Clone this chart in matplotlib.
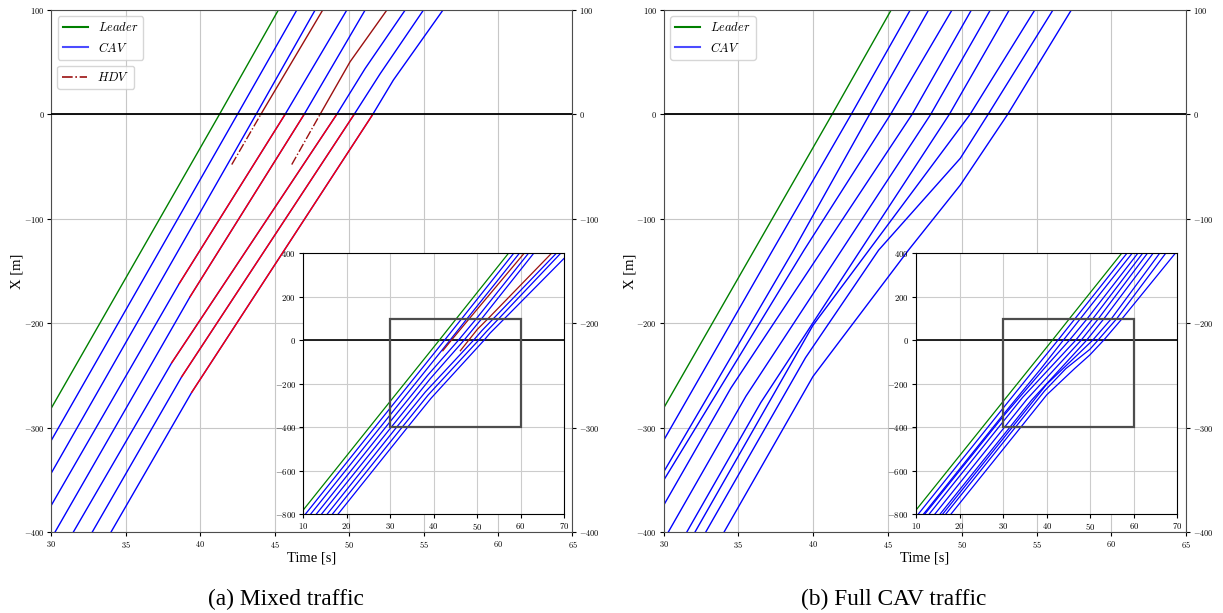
import matplotlib
matplotlib.use('Agg')
import matplotlib.pyplot as plt
from matplotlib.lines import Line2D
from matplotlib.patches import Rectangle

plt.rcParams['font.family'] = 'serif'
plt.rcParams['font.serif'] = ['cmr10']
plt.rcParams['mathtext.fontset'] = 'cm'
plt.rcParams['axes.formatter.use_mathtext'] = True

# --- datos (tiempo [s], posicion [m]) ---
leader_t = [10.0, 30.0, 41.28, 45.24, 57.2]
leader_x = [-781, -281, 0, 100, 400]

# (a) trafico mixto: 7 CAV
mixed_cav_t = [
    [10.5, 30.0, 42.49, 46.48, 58.4],
    [11.7, 30.0, 43.74, 47.71, 59.7],
    [13.0, 30.0, 38.59, 45.69, 49.84, 61.8],
    [14.2, 30.24, 39.31, 46.97, 51.07, 63.0],
    [15.5, 31.47, 38.08, 49.16, 51.07, 53.76, 68.2],
    [16.7, 32.74, 38.75, 50.33, 52.08, 54.99, 69.2],
    [18.0, 34.0, 39.42, 51.58, 52.97, 56.3, 70.0],
]
mixed_cav_x = [
    [-800, -311.9, 0, 100, 400],
    [-800, -343.2, 0, 100, 400],
    [-800, -374.1, -161.8, 0, 100, 400],
    [-800, -400, -174.6, 0, 100, 400],
    [-800, -400, -237.8, 0, 44, 100, 400],
    [-800, -400, -251.2, 0, 39, 100, 400],
    [-800, -400, -266.2, 0, 33, 100, 377],
]
# tramo rojo (indices de inicio y fin) de cada CAV
mixed_red = [None, None, (2, 3), (2, 3), (2, 3), (2, 3), (2, 3)]

# HDV que entran por la rampa
hdv_t = [
    [42.11, 44.06, 48.22, 60.8],
    [46.14, 48.04, 50.06, 52.53, 67.1],
]
hdv_x = [
    [-48, 0, 100, 400],
    [-48, 0, 50.5, 100, 400],
]

# (b) trafico solo CAV: 9 CAV
full_cav_t = [
    [10.5, 30.0, 37.3, 42.56, 46.52, 58.4],
    [11.7, 30.0, 38.7, 43.79, 47.75, 59.6],
    [12.0, 30.0, 39.4, 45.2, 49.32, 60.9],
    [13.0, 30.0, 34.5, 46.64, 50.62, 62.0],
    [14.3, 30.3, 35.5, 47.89, 51.89, 63.1],
    [15.5, 31.54, 36.5, 49.14, 53.16, 64.4],
    [16.1, 32.09, 40.0, 50.53, 54.87, 65.9],
    [16.8, 32.81, 39.5, 44.4, 49.88, 51.74, 56.09, 67.3],
    [18.0, 34.04, 40.0, 46.4, 49.88, 53.05, 57.32, 69.5],
]
full_cav_x = [
    [-800, -311.9, -130, 0, 100, 400],
    [-800, -342.2, -130, 0, 100, 400],
    [-800, -350.2, -130, 0, 100, 400],
    [-800, -374.1, -262, 0, 100, 400],
    [-800, -400, -270, 0, 100, 400],
    [-800, -400, -276, 0, 100, 400],
    [-800, -400, -202, 0, 100, 400],
    [-800, -400, -233, -130, -42, 0, 100, 400],
    [-800, -400, -251, -130, -67.6, 0, 100, 400],
]

captions = ['(a) Mixed traffic', '(b) Full CAV traffic']

HDV_COLOR = '#9b1010'
SERIF = ['Liberation Serif', 'DejaVu Serif']

fig = plt.figure(figsize=(12.23, 6.13), dpi=100)
ax_a = fig.add_axes([0.0421, 0.1321, 0.426, 0.8515])
ax_b = fig.add_axes([0.5428, 0.1321, 0.4268, 0.8515])


def base_axes(ax):
    ax.set_xlim(30, 65)
    ax.set_ylim(-400, 100)
    ax.set_xticks(range(30, 66, 5))
    ax.set_yticks(range(-400, 101, 100))
    ax.grid(True, color='0.78', lw=0.8)
    ax.axhline(0, color='k', lw=1.3, zorder=3)
    ax.tick_params(labelsize=6, right=True, labelright=True, length=3, pad=2)
    for sp in ax.spines.values():
        sp.set_color('0.3')
    ax.set_xlabel('Time [s]', family=SERIF, fontsize=10.5, labelpad=1)
    ax.set_ylabel('X [m]', family=SERIF, fontsize=10.5)
    ax.yaxis.set_label_coords(-0.053, 0.5)
    ax.plot(leader_t, leader_x, color='green', lw=1.0)

    ins = ax.inset_axes([0.483, 0.034, 0.501, 0.5])
    ins.set_facecolor('white')
    ins.set_xlim(10, 70)
    ins.set_ylim(-800, 400)
    ins.set_xticks(range(10, 71, 10))
    ins.set_yticks(range(-800, 401, 200))
    ins.grid(True, color='0.8', lw=0.8)
    ins.tick_params(labelsize=6.3, length=3, pad=2)
    ins.axhline(0, color='k', lw=1.2)
    ins.add_patch(Rectangle((30, -400), 30, 500, fill=False,
                            edgecolor='0.3', lw=1.6, zorder=4))
    ins.plot(leader_t, leader_x, color='green', lw=0.9)
    return ins


# ---- (a) mixed ----
ins_a = base_axes(ax_a)
for k in range(len(mixed_cav_t)):
    t = mixed_cav_t[k]
    x = mixed_cav_x[k]
    ax_a.plot(t, x, color='blue', lw=1.0)
    ins_a.plot(t, x, color='blue', lw=0.9)
    if mixed_red[k] is not None:
        i0, i1 = mixed_red[k]
        ax_a.plot(t[i0:i1 + 1], x[i0:i1 + 1], color='red', lw=1.0)

for k in range(len(hdv_t)):
    t = hdv_t[k]
    x = hdv_x[k]
    ax_a.plot(t[:2], x[:2], color=HDV_COLOR, lw=1.0, ls='-.')
    ax_a.plot(t[1:], x[1:], color=HDV_COLOR, lw=1.0)
    ins_a.plot(t, x, color=HDV_COLOR, lw=0.9)

h_main = [Line2D([], [], color='green', lw=1.5, label='$Leader$'),
          Line2D([], [], color='blue', lw=1.5, alpha=0.7, label='$CAV$')]
leg1 = ax_a.legend(handles=h_main, loc='upper left', fontsize=9)
ax_a.add_artist(leg1)
ax_a.legend(handles=[Line2D([], [], color=HDV_COLOR, lw=1.2, ls='-.', label='$HDV$')],
            loc='upper left', bbox_to_anchor=(0.0106, 0.893),
            borderaxespad=0, fontsize=9)

# ---- (b) full CAV ----
ins_b = base_axes(ax_b)
for k in range(len(full_cav_t)):
    ax_b.plot(full_cav_t[k], full_cav_x[k], color='blue', lw=1.0)
    ins_b.plot(full_cav_t[k], full_cav_x[k], color='blue', lw=0.9)
ax_b.legend(handles=h_main, loc='upper left', fontsize=9)

fig.text(285.6 / 1223, 1 - 599 / 613, captions[0], ha='center', va='center',
         family=SERIF, fontsize=16.8)
fig.text(894 / 1223, 1 - 599 / 613, captions[1], ha='center', va='center',
         family=SERIF, fontsize=16.8)

fig.savefig('out.png', dpi=100)
